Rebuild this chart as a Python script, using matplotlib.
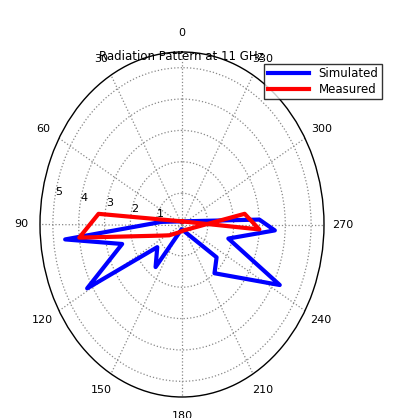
import numpy as np
import matplotlib.pyplot as plt

# angles (deg, CCW from top) and radius
sim_ang = [0, 84, 96, 105, 119, 127, 143, 175, 232, 219, 243, 256, 267, 273, 0]
sim_r = [0.1, 0.8, 4.55, 2.4, 4.2, 1.2, 1.7, 0.15, 1.7, 2.0, 4.25, 1.85, 3.6, 3.0, 0.1]
meas_ang = [0, 84, 96, 114, 125, 150, 200, 278, 267, 0]
meas_r = [0.1, 3.25, 4.0, 0.87, 0.6, 0.3, 0.2, 2.45, 3.0, 0.1]
rticks = [1, 2, 3, 4, 5]
aticks = list(range(0, 360, 30))

fig = plt.figure(figsize=(4.02, 4.18), dpi=100)
ax = fig.add_axes([40/402, 1-397/418, 284/402, 345/418], projection='polar')
ax.set_aspect('auto')
ax.set_theta_zero_location('N')
ax.set_theta_direction(1)
ax.plot(np.deg2rad(sim_ang), sim_r, color='#0000ff', lw=3, label='Simulated')
ax.plot(np.deg2rad(meas_ang), meas_r, color='#ff0000', lw=3, label='Measured')
ax.set_ylim(0, 5.5)
ax.set_yticks(rticks)
ax.set_yticklabels([str(t) for t in rticks], fontsize=8)
ax.set_rlabel_position(80)
ax.set_xticks(np.deg2rad(aticks))
ax.set_xticklabels([str(a) for a in aticks], fontsize=8)
ax.tick_params(axis='x', pad=3)
ax.grid(True, color='#888888', linestyle=':', lw=0.9)
ax.spines['polar'].set_linewidth(1)
fig.text(181/402, 1-57/418, 'Radiation Pattern at 11 GHz', fontsize=8.5,
         ha='center', va='center')
fig.legend(loc='upper right', bbox_to_anchor=(388/402, 1-58/418), fontsize=8.5,
           fancybox=False, edgecolor='black', handlelength=3.5, borderpad=0.3,
           labelspacing=0.2)
fig.savefig('out.png', dpi=100)
